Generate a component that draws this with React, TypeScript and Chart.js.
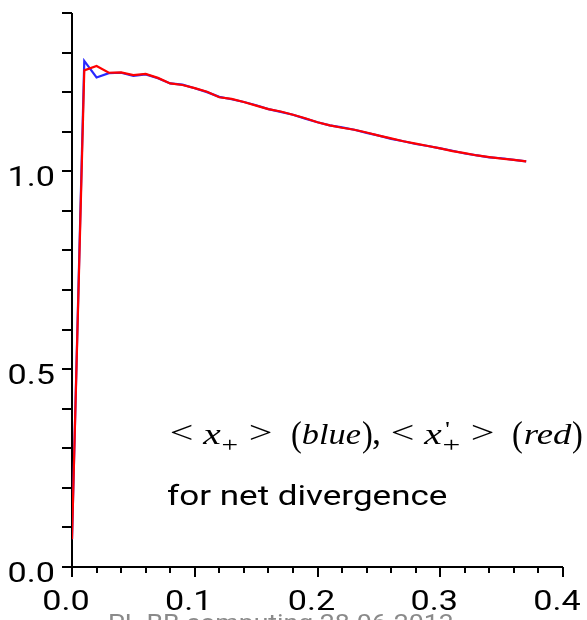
import React, { useEffect, useRef } from "react";
import { Chart, registerables } from "chart.js";

Chart.register(...registerables);

// Sample positions (t) and the two averaged quantities
const tValues = [
  0.0, 0.01, 0.02, 0.03, 0.04, 0.05, 0.06, 0.07, 0.08, 0.09,
  0.1, 0.11, 0.12, 0.13, 0.14, 0.15, 0.16, 0.17, 0.18, 0.19,
  0.2, 0.21, 0.22, 0.23, 0.24, 0.25, 0.26, 0.27, 0.28, 0.29,
  0.3, 0.31, 0.32, 0.33, 0.34, 0.35, 0.36, 0.37,
];

const xPlusBlue = [
  0.07, 1.279, 1.237, 1.248, 1.249, 1.241, 1.245, 1.235, 1.222, 1.219,
  1.21, 1.2, 1.188, 1.182, 1.175, 1.167, 1.157, 1.15, 1.143, 1.133,
  1.124, 1.116, 1.111, 1.105, 1.097, 1.09, 1.082, 1.076, 1.069, 1.064,
  1.058, 1.052, 1.045, 1.04, 1.035, 1.033, 1.029, 1.025,
];

const xPlusPrimeRed = [
  0.07, 1.255, 1.266, 1.249, 1.25, 1.243, 1.246, 1.236, 1.222, 1.218,
  1.21, 1.201, 1.187, 1.183, 1.175, 1.166, 1.157, 1.151, 1.143, 1.134,
  1.124, 1.116, 1.11, 1.105, 1.098, 1.09, 1.083, 1.076, 1.07, 1.064,
  1.058, 1.051, 1.046, 1.04, 1.036, 1.032, 1.029, 1.025,
];

// Axis ticks and labels
const xMin = 0;
const xMax = 0.4;
const yMin = 0;
const yMax = 1.4;
const xTickValues = [
  0, 0.02, 0.04, 0.06, 0.08, 0.1, 0.12, 0.14, 0.16, 0.18, 0.2,
  0.22, 0.24, 0.26, 0.28, 0.3, 0.32, 0.34, 0.36, 0.38, 0.4,
];
const xMajorTicks = [0, 0.1, 0.2, 0.3, 0.4];
const xTickLabels = ["0.0", "0.1", "0.2", "0.3", "0.4"];
const yTickValues = [0, 0.1, 0.2, 0.3, 0.4, 0.5, 0.6, 0.7, 0.8, 0.9, 1.0, 1.1, 1.2, 1.3, 1.4];
const yLabelValues = [0, 0.5, 1.0];
const yTickLabels = ["0.0", "0.5", "1.0"];

const SANS = 'Roboto, "Liberation Sans", sans-serif';
const SERIF = '"Liberation Serif", "DejaVu Serif", serif';
const STRETCH = 1.22;

function drawStretched(
  ctx: CanvasRenderingContext2D,
  text: string,
  x: number,
  y: number,
  align: "left" | "right" | "center",
  font: string,
  color: string,
  sx: number
) {
  ctx.save();
  ctx.font = font;
  const w = ctx.measureText(text).width * sx;
  let left = x;
  if (align === "right") left = x - w;
  if (align === "center") left = x - w / 2;
  ctx.translate(left, y);
  ctx.scale(sx, 1);
  ctx.fillStyle = color;
  ctx.textAlign = "left";
  ctx.textBaseline = "alphabetic";
  ctx.fillText(text, 0, 0);
  ctx.restore();
}

// Draws text so that its inked extent runs from inkLeft to inkRight on the given baseline
function drawInk(
  ctx: CanvasRenderingContext2D,
  text: string,
  font: string,
  inkLeft: number,
  inkRight: number,
  baseline: number,
  color = "#000"
) {
  ctx.save();
  ctx.font = font;
  ctx.textAlign = "left";
  ctx.textBaseline = "alphabetic";
  const m = ctx.measureText(text);
  const inkW = m.actualBoundingBoxLeft + m.actualBoundingBoxRight;
  const sx = inkW > 0 ? (inkRight - inkLeft) / inkW : 1;
  ctx.translate(inkLeft + m.actualBoundingBoxLeft * sx, baseline);
  ctx.scale(sx, 1);
  ctx.fillStyle = color;
  ctx.fillText(text, 0, 0);
  ctx.restore();
}

const axesPlugin = {
  id: "maplePlotAxes",
  beforeDatasetsDraw(chart: any) {
    const ctx: CanvasRenderingContext2D = chart.ctx;
    const xs = chart.scales.x;
    const ys = chart.scales.y;
    const x0 = xs.getPixelForValue(xMin);
    const x1 = xs.getPixelForValue(xMax);
    const y0 = ys.getPixelForValue(yMin);
    const y1 = ys.getPixelForValue(yMax);
    ctx.save();
    ctx.strokeStyle = "#000";
    ctx.lineWidth = 2;
    ctx.beginPath();
    ctx.moveTo(x0, y1);
    ctx.lineTo(x0, y0);
    ctx.lineTo(x1, y0);
    ctx.stroke();

    ctx.beginPath();
    yTickValues.forEach((v) => {
      const py = Math.round(ys.getPixelForValue(v));
      ctx.moveTo(x0 - 10, py);
      ctx.lineTo(x0, py);
    });
    xTickValues.forEach((v) => {
      const px = Math.round(xs.getPixelForValue(v));
      const major = xMajorTicks.some((m) => Math.abs(m - v) < 1e-9);
      ctx.moveTo(px, y0);
      ctx.lineTo(px, y0 + (major ? 10 : 6));
    });
    ctx.stroke();
    ctx.restore();
  },
  afterDraw(chart: any) {
    const ctx: CanvasRenderingContext2D = chart.ctx;
    const xs = chart.scales.x;
    const ys = chart.scales.y;
    const x0 = xs.getPixelForValue(xMin);
    const font = `28px ${SANS}`;

    yLabelValues.forEach((v, i) => {
      const py = ys.getPixelForValue(v);
      drawStretched(ctx, yTickLabels[i], x0 - 17, py + 15, "right", font, "#000", STRETCH);
    });
    xMajorTicks.forEach((v, i) => {
      const px = xs.getPixelForValue(v);
      drawStretched(ctx, xTickLabels[i], px - 6, 610, "center", font, "#000", STRETCH);
    });

    // < x_+ >  (blue),  < x'_+ >  (red)
    const rel = `32px ${SERIF}`;
    const par = `36px ${SERIF}`;
    const it = `italic 29px ${SERIF}`;
    const sub = `21px ${SERIF}`;
    const base = 444;
    drawInk(ctx, "<", rel, 171, 192, base - 1);
    drawInk(ctx, "x", it, 202, 221, base);
    drawInk(ctx, "+", sub, 223, 237, base + 8);
    drawInk(ctx, ">", rel, 250, 271, base - 1);
    drawInk(ctx, "(", par, 292, 301, base + 2);
    drawInk(ctx, "blue", it, 303, 361, base);
    drawInk(ctx, ")", par, 363, 372, base + 2);
    drawInk(ctx, ",", par, 373, 379, base);
    drawInk(ctx, "<", rel, 392, 413, base - 1);
    drawInk(ctx, "x", it, 423, 442, base);
    drawInk(ctx, "'", sub, 445, 449, base - 8);
    drawInk(ctx, "+", sub, 444, 459, base + 8);
    drawInk(ctx, ">", rel, 472, 493, base - 1);
    drawInk(ctx, "(", par, 513, 522, base + 2);
    drawInk(ctx, "red", it, 525, 572, base);
    drawInk(ctx, ")", par, 573, 582, base + 2);

    drawInk(ctx, "for net divergence", `27px ${SANS}`, 167, 447, 505);

    drawInk(ctx, "PL-BB computing 28.06.2013", `24px ${SANS}`, 109, 452, 631, "#8a8a8a");
  },
};

export default function App() {
  const canvasRef = useRef<HTMLCanvasElement | null>(null);

  useEffect(() => {
    document.body.style.margin = "0";
    const canvas = canvasRef.current;
    if (!canvas) return;
    let chart: Chart | null = null;
    let cancelled = false;

    const build = () => {
      if (cancelled) return;
      const blueData = tValues.map((t, i) => ({ x: t, y: xPlusBlue[i] }));
      const redData = tValues.map((t, i) => ({ x: t, y: xPlusPrimeRed[i] }));
      chart = new Chart(canvas, {
        type: "line",
        data: {
          datasets: [
            {
              label: "<x+> (blue)",
              data: blueData,
              borderColor: "rgb(40,40,255)",
              borderWidth: 2.2,
              pointRadius: 0,
              tension: 0,
              fill: false,
              order: 2,
            },
            {
              label: "<x'+> (red)",
              data: redData,
              borderColor: "rgb(255,0,0)",
              borderWidth: 2.2,
              pointRadius: 0,
              tension: 0,
              fill: false,
              order: 1,
            },
          ],
        },
        options: {
          animation: false,
          responsive: false,
          maintainAspectRatio: false,
          devicePixelRatio: 1,
          layout: { padding: { left: 72, right: 24, top: 13, bottom: 53 } },
          plugins: {
            legend: { display: false },
            tooltip: { enabled: false },
            title: { display: false },
          },
          scales: {
            x: { type: "linear", min: xMin, max: xMax, display: false },
            y: { type: "linear", min: yMin, max: yMax, display: false },
          },
        },
        plugins: [axesPlugin],
      });
    };

    const fontsReady = Promise.all([
      document.fonts.load(`28px Roboto`),
      document.fonts.load(`26px "Liberation Serif"`),
      document.fonts.load(`italic 26px "Liberation Serif"`),
    ]).catch(() => undefined);
    fontsReady.then(build);

    return () => {
      cancelled = true;
      if (chart) chart.destroy();
    };
  }, []);

  return (
    <div style={{ position: "fixed", left: 0, top: 0, width: 587, height: 620, background: "#fff" }}>
      <canvas ref={canvasRef} width={587} height={620} style={{ display: "block" }} />
    </div>
  );
}
